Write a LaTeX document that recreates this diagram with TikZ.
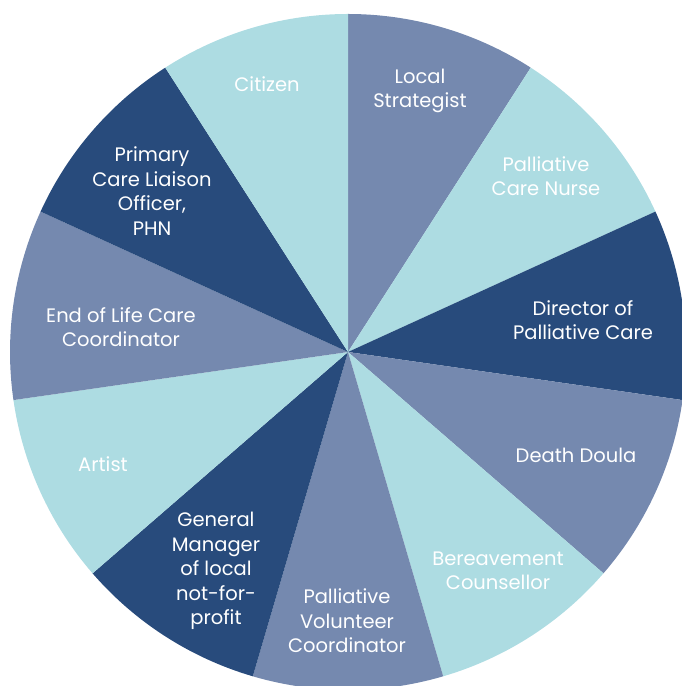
\documentclass[tikz,border=0pt]{standalone}
\usepackage{fontspec}
\setmainfont{Poppins}
\usepackage{tikz}
\definecolor{white}{rgb}{1.0, 1.0, 1.0}
\definecolor{slate}{RGB}{117,137,175}
\definecolor{pale}{RGB}{173,220,226}
\definecolor{navy}{RGB}{40,75,124}
\pgfdeclarelayer{slicelayer}
\pgfdeclarelayer{textlayer}
\pgfsetlayers{slicelayer,textlayer,main}
\tikzstyle{role}=[text=white,align=center,inner sep=0pt,font=\fontsize{19.5}{24.5}\selectfont]

\begin{document}
\begin{tikzpicture}[x=1pt,y=1pt]
        \clip (0,0) rectangle (681,686);
        \coordinate (c) at (348,334);

        \begin{pgfonlayer}{slicelayer}
            % eleven equal slices, clockwise from the top
            \fill [slate] (c) -- ++(90:338) arc [start angle=90, end angle=57.27, radius=338] -- cycle;
            \fill [pale] (c) -- ++(57.27:338) arc [start angle=57.27, end angle=24.55, radius=338] -- cycle;
            \fill [navy] (c) -- ++(24.55:338) arc [start angle=24.55, end angle=-8.18, radius=338] -- cycle;
            \fill [slate] (c) -- ++(-8.18:338) arc [start angle=-8.18, end angle=-40.91, radius=338] -- cycle;
            \fill [pale] (c) -- ++(-40.91:338) arc [start angle=-40.91, end angle=-73.64, radius=338] -- cycle;
            \fill [slate] (c) -- ++(-73.64:338) arc [start angle=-73.64, end angle=-106.36, radius=338] -- cycle;
            \fill [navy] (c) -- ++(-106.36:338) arc [start angle=-106.36, end angle=-139.09, radius=338] -- cycle;
            \fill [pale] (c) -- ++(-139.09:338) arc [start angle=-139.09, end angle=-171.82, radius=338] -- cycle;
            \fill [slate] (c) -- ++(-171.82:338) arc [start angle=-171.82, end angle=-204.55, radius=338] -- cycle;
            \fill [navy] (c) -- ++(-204.55:338) arc [start angle=-204.55, end angle=-237.27, radius=338] -- cycle;
            \fill [pale] (c) -- ++(-237.27:338) arc [start angle=-237.27, end angle=-270, radius=338] -- cycle;
        \end{pgfonlayer}

        \begin{pgfonlayer}{textlayer}
            \node [style = role] (strategist) at (420, 595) {Local\\Strategist};
            \node [style = role] (nurse) at (546, 510) {Palliative\\Care Nurse};
            \node [style = role] (director) at (583, 366) {Director of\\Palliative Care};
            \node [style = role] (doula) at (576, 231) {Death Doula};
            \node [style = role] (counsellor) at (498, 115) {Bereavement\\Counsellor};
            \node [style = role] (volunteer) at (347, 65) {Palliative\\Volunteer\\Coordinator};
            \node [style = role] (manager) at (216, 115) {General\\Manager\\of local\\not-for-\\profit};
            \node [style = role] (artist) at (103, 222) {Artist};
            \node [style = role] (endoflife) at (121, 359) {End of Life Care\\Coordinator};
            \node [style = role] (liaison) at (152, 495) {Primary\\Care Liaison\\Officer,\\PHN};
            \node [style = role] (citizen) at (267, 602) {Citizen};
        \end{pgfonlayer}
    \end{tikzpicture}
\end{document}
